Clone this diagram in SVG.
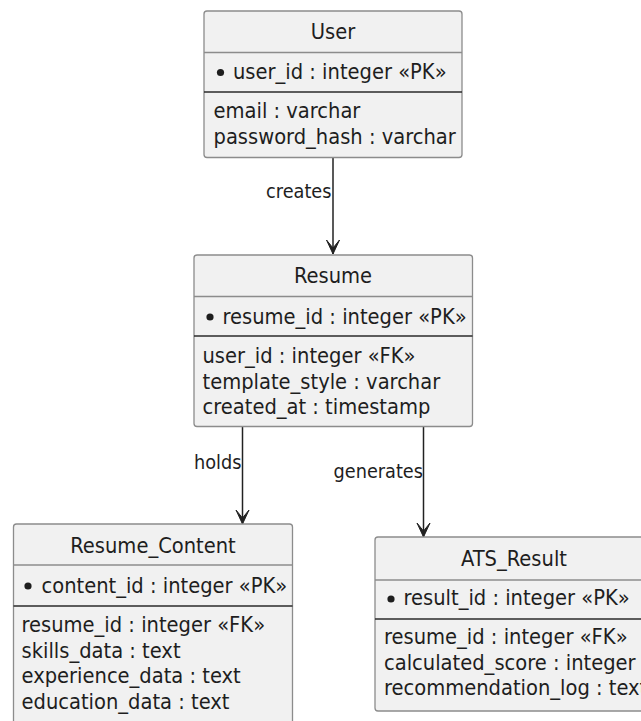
<svg xmlns="http://www.w3.org/2000/svg" width="641" height="721" viewBox="0 0 641 721">
<style>
text{font-family:"DejaVu Sans Condensed","DejaVu Sans",sans-serif;font-stretch:condensed;fill:#1e1e1e;font-size:21.7px}
.box{fill:#F1F1F1;stroke:#8c8c8c;stroke-width:1.3}
.sep{stroke:#8c8c8c;stroke-width:1.3}
.sep2{stroke:#2a2a2a;stroke-width:1.6}
.t{text-anchor:middle}
.lbl{font-size:19.7px;text-anchor:end}
.edge{stroke:#222;stroke-width:1.5;fill:none}
.ah{fill:#222;stroke:#222;stroke-width:1}
</style>
<g id="connectors">
<line class="edge" x1="333" y1="157.5" x2="333" y2="254"/>
<path class="ah" d="M333,254 L326.5,240 L333,248 L339.5,240 Z"/>
<text class="lbl" x="331.5" y="198">creates</text>
<line class="edge" x1="242.5" y1="426.5" x2="242.5" y2="524"/>
<path class="ah" d="M242.5,524 L236,510 L242.5,518 L249,510 Z"/>
<text class="lbl" x="241.5" y="469">holds</text>
<line class="edge" x1="423.5" y1="426.5" x2="423.5" y2="537"/>
<path class="ah" d="M423.5,537 L417,523 L423.5,531 L430,523 Z"/>
<text class="lbl" x="423" y="478">generates</text>
</g>
<g id="User">
<rect class="box" x="204" y="11" width="258" height="146.5" rx="3"/>
<text class="t" x="333" y="38.5">User</text>
<line class="sep" x1="204" y1="52.5" x2="462" y2="52.5"/>
<circle cx="220.5" cy="72.5" r="3.6" fill="#1e1e1e"/>
<text x="233" y="79">user_id : integer «PK»</text>
<line class="sep2" x1="204" y1="92" x2="462" y2="92"/>
<text x="213.5" y="118">email : varchar</text>
<text x="213.5" y="144">password_hash : varchar</text>
</g>
<g id="Resume">
<rect class="box" x="194" y="255" width="278.5" height="171.5" rx="3"/>
<text class="t" x="333" y="283">Resume</text>
<line class="sep" x1="194" y1="296.5" x2="472.5" y2="296.5"/>
<circle cx="210" cy="317" r="3.6" fill="#1e1e1e"/>
<text x="222.5" y="323.5">resume_id : integer «PK»</text>
<line class="sep2" x1="194" y1="336" x2="472.5" y2="336"/>
<text x="202.5" y="363">user_id : integer «FK»</text>
<text x="202.5" y="388.5">template_style : varchar</text>
<text x="202.5" y="413.5">created_at : timestamp</text>
</g>
<g id="Resume_Content">
<rect class="box" x="13.5" y="524" width="279" height="210" rx="3"/>
<text class="t" x="153" y="553">Resume_Content</text>
<line class="sep" x1="13.5" y1="565" x2="292.5" y2="565"/>
<circle cx="28" cy="586" r="3.6" fill="#1e1e1e"/>
<text x="41.5" y="592.5">content_id : integer «PK»</text>
<line class="sep2" x1="13.5" y1="606" x2="292.5" y2="606"/>
<text x="21.5" y="632">resume_id : integer «FK»</text>
<text x="21.5" y="657.5">skills_data : text</text>
<text x="21.5" y="683">experience_data : text</text>
<text x="21.5" y="709">education_data : text</text>
</g>
<g id="ATS_Result">
<rect class="box" x="375" y="537" width="278" height="174" rx="3"/>
<text class="t" x="514" y="566">ATS_Result</text>
<line class="sep" x1="375" y1="580" x2="653" y2="580"/>
<circle cx="391" cy="599" r="3.6" fill="#1e1e1e"/>
<text x="403.5" y="605">result_id : integer «PK»</text>
<line class="sep2" x1="375" y1="619" x2="653" y2="619"/>
<text x="384" y="643.5">resume_id : integer «FK»</text>
<text x="384" y="669.5">calculated_score : integer</text>
<text x="384" y="694.5">recommendation_log : text</text>
</g>
</svg>
